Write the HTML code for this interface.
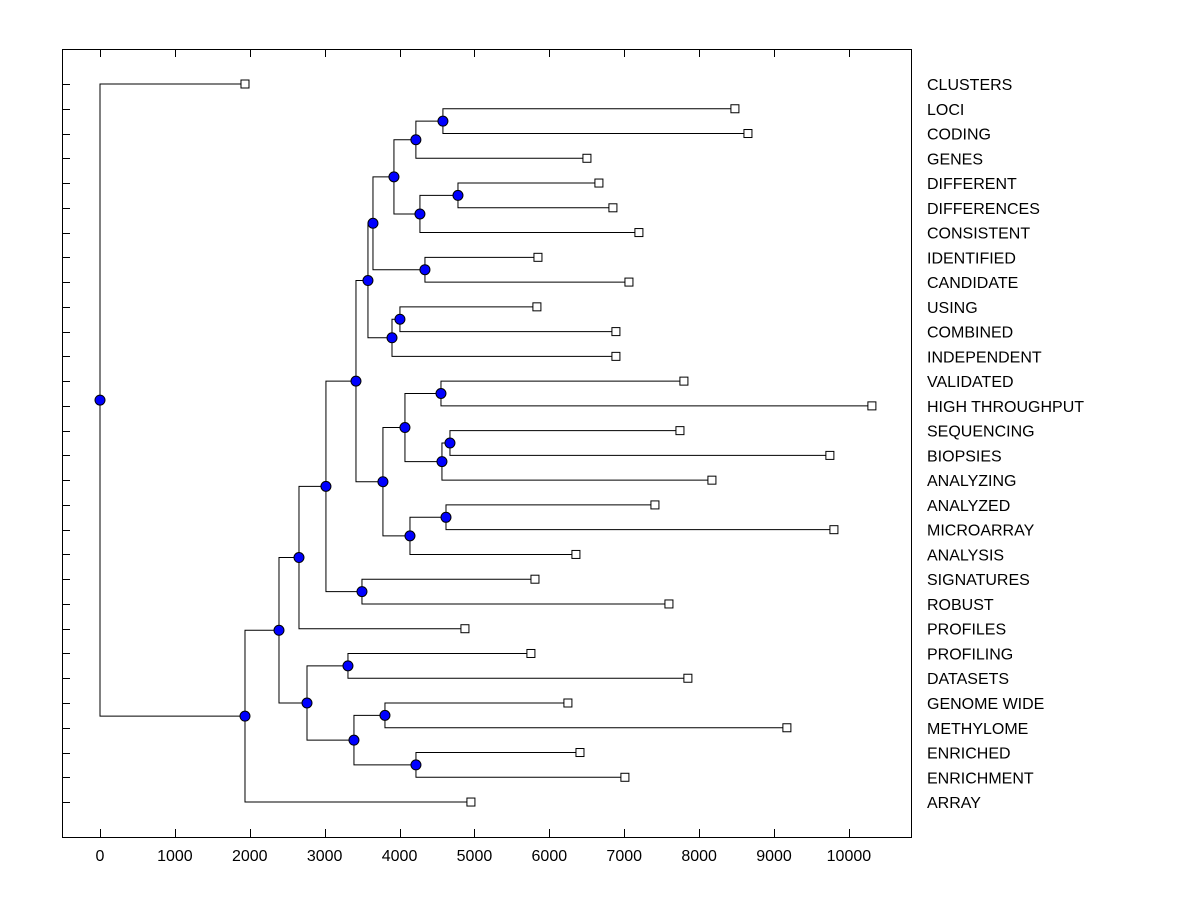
<!DOCTYPE html>
<html><head><meta charset="utf-8"><style>
body{margin:0;background:#fff}
svg{display:block;font-family:"Liberation Sans",Arial,sans-serif}
</style></head><body>
<svg id="chart" width="1200" height="900"></svg>
<script>
const leaves=["CLUSTERS","LOCI","CODING","GENES","DIFFERENT","DIFFERENCES","CONSISTENT","IDENTIFIED","CANDIDATE","USING","COMBINED","INDEPENDENT","VALIDATED","HIGH THROUGHPUT","SEQUENCING","BIOPSIES","ANALYZING","ANALYZED","MICROARRAY","ANALYSIS","SIGNATURES","ROBUST","PROFILES","PROFILING","DATASETS","GENOME WIDE","METHYLOME","ENRICHED","ENRICHMENT","ARRAY"];
const leafValues=[1936,8478,8652,6502,6662,6849,7196,5848,7063,5834,6889,6889,7797,10307,7744,9746,8171,7410,9800,6355,5808,7597,4873,5754,7850,6248,9172,6409,7009,4953];
// children: leaf index >=0, internal node k (1-based) as -k
const mergeLeft=[1,-1,4,-3,-2,7,-5,9,-8,-7,12,14,-12,-11,17,-15,-14,-10,20,-18,-20,23,25,27,-23,-22,-21,-27,0];
const mergeRight=[2,3,5,6,-4,8,-6,10,11,-9,13,15,16,-13,18,19,-16,-17,21,-19,22,24,26,28,-24,-25,-26,29,-28];
const mergeHeight=[4579,4218,4780,4272,3925,4339,3645,4005,3899,3578,4553,4673,4566,4072,4620,4139,3778,3418,3498,3017,2657,3311,3805,4219,3391,2764,2390,1936,0];
const xTicks=[0,1000,2000,3000,4000,5000,6000,7000,8000,9000,10000];

const NS="http://www.w3.org/2000/svg";
const svg=document.getElementById('chart');
const X=v=>100+v*0.07489;
const Y=i=>84+i*24.76;
function el(t,a,p){const e=document.createElementNS(NS,t);for(const k in a)e.setAttribute(k,a[k]);(p||svg).appendChild(e);return e;}
const frame=el('rect',{x:62.5,y:49.5,width:849,height:788,fill:'none',stroke:'#000','stroke-width':1});


xTicks.forEach(t=>{
  const x=Math.round(X(t))+0.5;
  el('line',{x1:x,x2:x,y1:49,y2:57,stroke:'#000'});
  el('line',{x1:x,x2:x,y1:829,y2:837,stroke:'#000'});
  const tx=el('text',{x:X(t),y:861,'text-anchor':'middle','font-size':16},svg);
  tx.textContent=t;
  
  
});
const nodes=[];
function pos(c){return c>=0?{x:X(leafValues[c]),y:Y(c)}:nodes[-c-1];}
const lines=el('g',{stroke:'#000','stroke-width':1,fill:'none'});


mergeHeight.forEach((h,k)=>{
  const a=pos(mergeLeft[k]),b=pos(mergeRight[k]);
  const x=X(h);
  nodes.push({x:x,y:(a.y+b.y)/2});
  el('path',{d:`M${a.x} ${a.y}H${x}V${b.y}H${b.x}`},lines);
});
leaves.forEach((n,i)=>{
  const y=Y(i);
  el('line',{x1:62,x2:70,y1:Math.round(y)+0.5,y2:Math.round(y)+0.5,stroke:'#000'});
  const r=el('rect',{x:X(leafValues[i])-4,y:y-4,width:8,height:8,fill:'#fff',stroke:'#000'});
  
  
  const t=el('text',{x:927,y:y+6,'font-size':16});
  t.textContent=n;
  
  
});
nodes.forEach(n=>{
  const c=el('circle',{cx:n.x,cy:n.y,r:5,fill:'#0000ff',stroke:'#000'});
  
  
});
</script>
</body></html>
